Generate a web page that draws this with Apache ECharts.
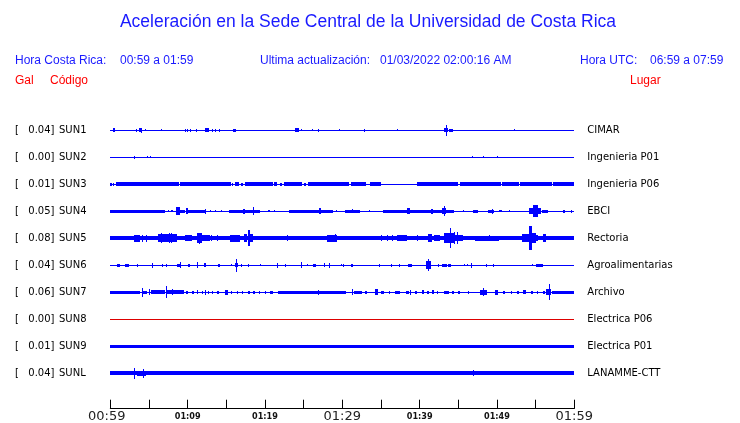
<!DOCTYPE html>
<html><head><meta charset="utf-8">
<script src="https://cdn.jsdelivr.net/npm/echarts@6/dist/echarts.min.js"></script>
<style>html,body{margin:0;padding:0;background:#fff}#c{width:740px;height:423px}</style>
</head><body><div id="c"></div>
<script>
// ---- data ----
const TITLE = 'Aceleración en la Sede Central de la Universidad de Costa Rica';
const CODES = ['SUN1','SUN2','SUN3','SUN4','SUN5','SUN6','SUN7','SUN8','SUN9','SUNL'];
const PEAKS = ['0.04','0.00','0.01','0.05','0.08','0.04','0.06','0.00','0.01','0.04'];
const PLACES = ['CIMAR','Ingenieria P01','Ingenieria P06','EBCI','Rectoria','Agroalimentarias','Archivo','Electrica P06','Electrica P01','LANAMME-CTT'];
const TIME_MINUTES = [0,10,20,30,40,50,60];
const TIME_LABELS = ['00:59','01:09','01:19','01:29','01:39','01:49','01:59'];
const BIG_LABELS = ['00:59','01:29','01:59'];

// trace envelopes: [start minute, end minute, half amplitude]
const SUN1 = [[0.3,0.6,2],[3.3,3.3,1.5],[3.7,4.1,2],[4.0,4.0,2.5],[4.5,4.5,1],[6.6,6.6,1],[9.7,9.7,1.5],[9.9,9.9,1.5],[10.3,10.3,1.5],[11.1,11.1,1.5],[12.2,12.7,2],[13.1,13.1,1.5],[13.6,13.6,1.5],[14.1,14.1,1.5],[15.9,16.3,1.5],[23.9,24.4,2],[24.7,24.7,1],[26.1,26.1,1],[26.8,27.0,1.5],[29.6,29.6,1],[32.8,32.8,1.5],[37.1,37.1,1],[43.15,43.7,2],[43.4,43.4,5.3],[43.8,44.3,1.5],[52.2,52.2,1]];
const SUN2 = [[3.0,3.0,1.3],[4.8,4.8,1],[5.1,5.1,1],[46.8,46.8,1],[48.2,48.2,1],[50.0,50.0,1]];
const SUN3 = [[0,0.2,1.5],[0.4,0.5,1.5],[0.75,8.9,2],[9.0,15.6,2],[15.7,15.9,1.5],[16.1,16.6,2],[16.9,17.2,1.5],[17.4,21.0,2],[21.2,21.6,2],[21.9,22.2,1.5],[22.4,24.8,2],[25.1,25.3,1.5],[25.5,30.9,2],[31.1,33.1,2],[33.6,35.0,2],[39.6,45.0,2],[45.2,50.5,2],[50.7,52.8,2],[53.0,57.1,2],[57.3,60,2]];
const SUN4 = [[0,7.1,1.5],[7.4,7.6,1],[7.9,8.1,1],[8.5,9.0,4],[9.0,9.6,1.5],[9.8,10.0,3],[10.0,11.6,1.5],[11.6,12.4,1.2],[12.2,12.2,2.5],[12.9,12.9,1],[13.5,13.5,1],[14.3,14.4,1],[15.4,19.4,1.5],[17.2,17.4,2.5],[18.4,18.6,4],[20.4,20.6,1],[21.2,21.3,1],[23.1,28.8,1.3],[27.0,27.2,3],[29.2,29.2,1],[30.3,32.3,1.5],[31.2,31.4,2],[33.5,33.5,1],[35.2,44.4,1.5],[38.4,38.7,3],[41.5,41.7,2.5],[42.9,43.4,3],[43.1,43.1,5],[45.6,45.6,1],[46.9,47.6,1.5],[48.9,49.6,1.5],[49.3,49.3,2.5],[50.3,50.6,1],[51.6,51.6,1],[54.1,54.6,3],[54.7,55.3,6],[55.3,55.7,3],[55.8,56.6,1.5],[58.5,58.8,1.5],[59.6,59.6,1.5]];
const SUN5 = [[0,60,2],[3.0,3.8,3.5],[4.1,4.1,3.5],[4.6,4.6,3.5],[6.2,8.6,4],[6.5,6.5,5],[7.6,7.6,5],[7.9,7.9,5],[9.7,10.5,3],[11.2,11.8,5],[11.5,11.5,5.3],[11.8,12.9,3],[13.0,13.0,3],[13.8,13.8,3],[15.5,16.8,3.5],[17.3,17.7,4],[17.8,18.0,8],[18.0,18.5,4],[22.9,22.9,3],[28.0,29.3,3.5],[29.1,29.1,4],[35.0,35.0,3],[35.8,35.8,3],[36.4,36.4,3],[37.1,38.4,3],[39.6,39.8,3],[41.1,41.6,4],[41.8,42.6,3],[43.2,44.6,5],[43.9,44.1,10],[44.4,44.4,6],[44.8,44.8,6],[44.6,45.6,3],[47.1,50.3,2.5],[49.0,49.0,3],[53.3,54.1,4],[54.1,54.5,12],[54.5,55.0,5],[55.0,55.3,3],[56.0,56.4,4]];
const SUN6 = [[0.9,1.2,1.5],[1.9,2.4,1.5],[3.4,3.5,1.5],[5.4,5.4,2.5],[6.7,6.8,1.5],[7.2,7.3,1.5],[8.6,9.1,1.5],[9.05,9.05,3],[10.0,10.3,1.5],[11.25,11.25,3],[12.1,12.4,2],[13.9,14.2,1.5],[15.6,15.6,1],[16.1,16.5,2],[16.3,16.3,6.5],[16.9,17.0,1.5],[17.8,17.8,1.3],[19.3,19.3,1],[21.6,21.6,2.5],[22.6,22.6,1.3],[24.6,24.6,3],[25.4,25.4,1],[26.2,26.6,1.5],[27.6,27.6,2],[28.3,28.3,2.5],[29.8,29.8,1],[30.1,30.2,1.5],[31.1,31.4,1.5],[34.8,34.9,1.5],[36.3,36.4,1.5],[37.3,37.4,1.5],[38.5,39.0,1.5],[40.8,41.5,4],[41.1,41.1,6],[42.4,42.5,1.5],[42.9,43.5,1.5],[43.7,44.1,1.5],[45.8,45.8,1],[46.1,46.1,1],[46.7,46.7,2.5],[48.6,48.6,1.3],[49.5,49.6,1.5],[54.5,54.5,1],[55.1,55.9,1.5]];
const SUN7 = [[0,3.9,1.5],[4.05,4.05,4.5],[4.1,4.8,1.5],[5.0,5.0,3],[5.2,7.1,2],[7.2,7.2,6],[7.3,9.5,2],[8.0,8.0,3],[9.8,10.0,1.3],[10.6,10.8,1.3],[11.2,11.4,2],[11.8,12.0,1.3],[12.3,12.3,2.5],[12.6,12.7,1.3],[13.2,13.3,1.3],[13.8,14.0,1.3],[14.8,15.2,2.5],[15.6,15.8,1.3],[16.4,16.5,1.3],[17.0,17.2,1.3],[17.8,18.0,1.3],[18.5,18.7,1.3],[19.2,19.4,1.3],[20.0,20.1,1.3],[20.6,21.0,1.3],[21.7,29.7,1.5],[26.8,26.8,2.5],[29.7,30.5,1.5],[31.3,31.3,3],[31.5,32.5,1.3],[33.0,33.2,1.3],[34.2,34.6,3],[35.0,35.4,1.3],[36.0,36.2,1.3],[36.8,37.4,1.3],[38.2,38.6,1.3],[38.8,38.8,2.5],[39.4,39.6,1.3],[40.3,40.5,2],[41.0,41.2,1.3],[41.6,41.8,2],[42.3,42.4,1.3],[43.2,43.8,1.3],[44.2,44.4,1.3],[45.0,45.2,1.3],[46.2,46.4,1.3],[47.8,48.7,2.5],[48.2,48.2,4],[49.7,50.1,2.5],[50.8,51.0,1.3],[51.8,52.0,1.3],[52.6,52.8,1.3],[53.4,53.7,2],[54.4,54.6,1.3],[55.2,55.3,1.3],[56.0,56.2,1.3],[56.4,57.0,3],[56.7,56.7,8],[57.1,60,1.5]];
const SUN8 = [];
const SUN9 = [[0,60,1.3]];
const SUNL = [[0,60,2],[3.5,4.6,2.5],[3.1,3.1,5.5],[4.2,4.2,4.5],[46.9,46.9,3]];
const TRACES = [SUN1,SUN2,SUN3,SUN4,SUN5,SUN6,SUN7,SUN8,SUN9,SUNL];
const LINE_COLORS = ['#0000ff','#0000ff','#0000ff','#0000ff','#0000ff','#0000ff','#0000ff','#dd0000','#0000ff','#0000ff'];

// ---- chart ----
const GAP = 27;
const chart = echarts.init(document.getElementById('c'), null, {renderer:'canvas'});
const segData = [];
TRACES.forEach((tr, i) => {
  segData.push([i, 0, 60, 0]);            // baseline of the trace
  tr.forEach(s => segData.push([i, s[0], s[1], s[2]]));
});
const baseValues = CODES.map((c, i) => i * GAP);

function renderSeg(params, api) {
  const i = api.value(0), a = api.value(3);
  const p0 = api.coord([api.value(1), i * GAP - a]);
  const p1 = api.coord([api.value(2), i * GAP + a]);
  const x0 = Math.round(p0[0]);
  const x1 = Math.max(x0 + 1, Math.round(p1[0]));
  const yT = Math.round(Math.min(p0[1], p1[1]));
  const yB = Math.round(Math.max(p0[1], p1[1]));
  return {type:'rect', shape:{x:x0, y:yT, width:x1 - x0, height:Math.max(1, yB - yT)},
          style:{fill: LINE_COLORS[i], stroke: null}};
}

const TXT = 'Liberation Sans, Arial, sans-serif';
const DJ = 'DejaVu Sans, sans-serif';
function t(x, y, text, color, size, align) {
  return {type:'text', x:x, y:y, style:{text:text, fill:color, font: size + 'px ' + TXT, textAlign: align || 'left', textVerticalAlign:'middle'}};
}

chart.setOption({
  animation: false,
  backgroundColor: '#fff',
  color: ['#0000ff'],
  grid: {left: 110.3, right: 165.7, top: 116.8, bottom: 36.2},
  xAxis: {
    type: 'value', min: 0, max: 60, interval: 5, offset: 21.9,
    axisLine: {show: true, onZero: false, lineStyle: {color: '#000', width: 1}},
    axisTick: {show: true, inside: true, length: 9, lineStyle: {color: '#000', width: 1}},
    splitLine: {show: false},
    axisLabel: {
      margin: 1, showMinLabel: true, showMaxLabel: true,
      formatter: function (v) {
        const k = TIME_MINUTES.indexOf(Math.round(v));
        if (k < 0) return '';
        const lab = TIME_LABELS[k];
        if (k === 0) return '{first|' + lab + '}';
        return BIG_LABELS.indexOf(lab) >= 0 ? '{big|' + lab + '}' : '{small|' + lab + '}';
      },
      rich: {
        first: {fontSize: 13, fontFamily: DJ, color: '#222', padding: [0, 7, 0, 0]},
        big: {fontSize: 13, fontFamily: DJ, color: '#222'},
        small: {fontSize: 9, fontWeight: 'bold', fontFamily: 'DejaVu Sans Condensed, DejaVu Sans, sans-serif', color: '#111', padding: [2, 0, 0, 0]}
      }
    }
  },
  yAxis: [{
    type: 'value', min: -13.5, max: 256.5, inverse: true, position: 'left',
    axisLine: {show: false}, axisTick: {show: false}, splitLine: {show: false},
    axisLabel: {
      customValues: baseValues, align: 'left', margin: 95.3,
      formatter: function (v) {
        const i = Math.round(v / GAP);
        return '{a|[}{b|' + PEAKS[i] + ']}{c|' + CODES[i] + '}';
      },
      rich: {
        a: {width: 12.7, fontSize: 10, fontFamily: DJ, color: '#000'},
        b: {width: 27.3, align: 'right', fontSize: 10, fontFamily: DJ, color: '#000'},
        c: {fontSize: 10, fontFamily: DJ, color: '#000', padding: [0, 0, 0, 4]}
      }
    }
  }, {
    type: 'value', min: -13.5, max: 256.5, inverse: true, position: 'right',
    axisLine: {show: false}, axisTick: {show: false}, splitLine: {show: false},
    axisLabel: {
      customValues: baseValues, margin: 13, fontSize: 10, fontFamily: DJ, color: '#000',
      formatter: function (v) { return PLACES[Math.round(v / GAP)]; }
    }
  }],
  series: [
    {type: 'custom', renderItem: renderSeg, data: segData, encode: {x: [1, 2]}, clip: false, silent: true}
  ],
  graphic: [
    t(368, 22, TITLE, '#1a1aff', 17.5, 'center'),
    t(15, 61, 'Hora Costa Rica:', '#1a1aff', 12),
    t(120, 61, '00:59 a 01:59', '#1a1aff', 12),
    t(260, 61, 'Ultima actualización:', '#1a1aff', 12),
    t(380, 61, '01/03/2022 02:00:16 AM', '#1a1aff', 12),
    t(580, 61, 'Hora UTC:', '#1a1aff', 12),
    t(650, 61, '06:59 a 07:59', '#1a1aff', 12),
    t(15, 81, 'Gal', '#ff0000', 12),
    t(50, 81, 'Código', '#ff0000', 12),
    t(630, 81, 'Lugar', '#ff0000', 12)
  ]
});
</script></body></html>
